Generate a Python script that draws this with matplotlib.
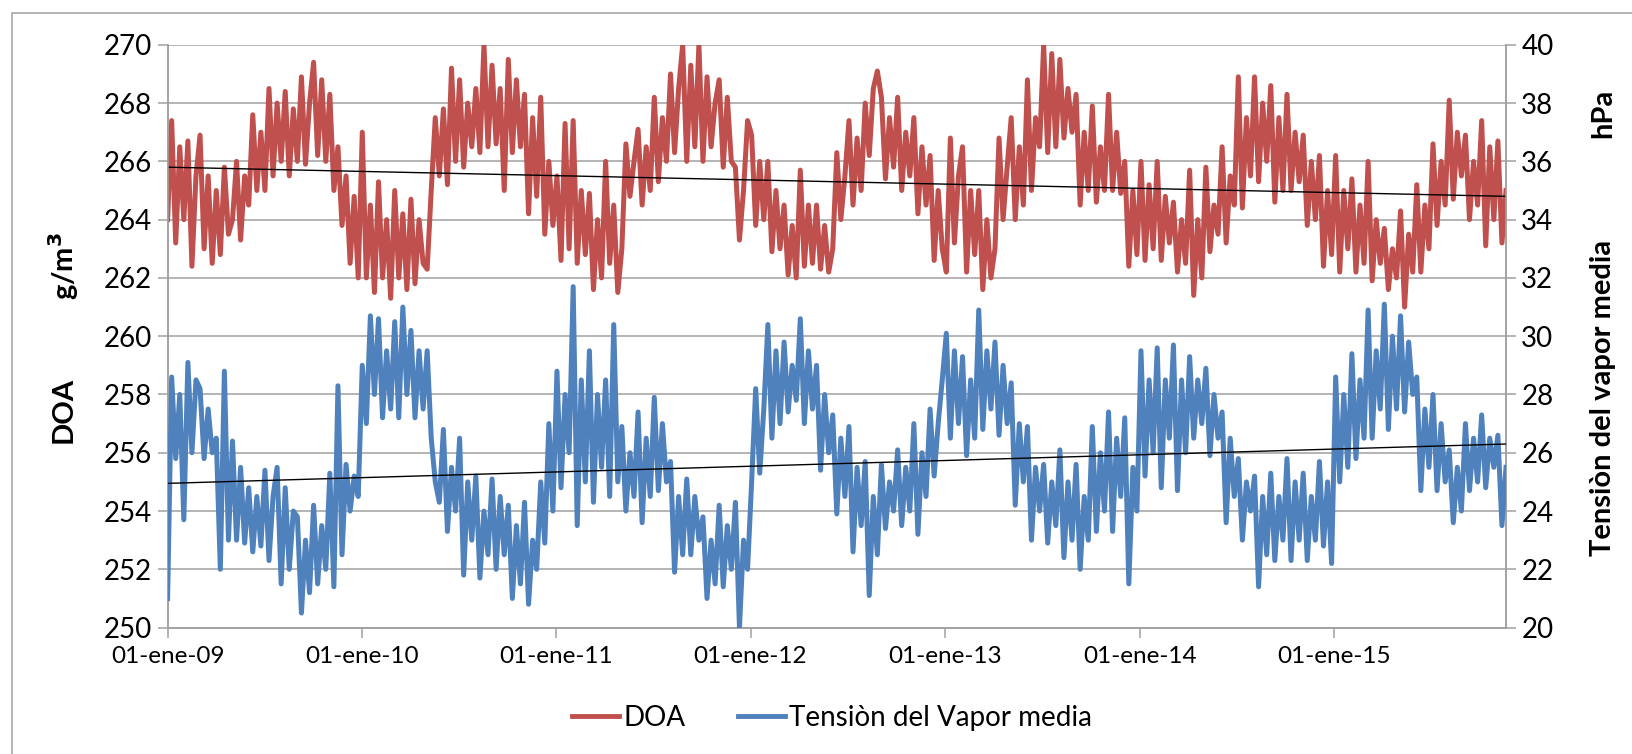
import numpy as np
import matplotlib
matplotlib.use("Agg")
import matplotlib.pyplot as plt
from matplotlib.lines import Line2D
from matplotlib.patches import Rectangle

plt.rcParams['font.family'] = ['Lato', 'DejaVu Sans']

# ---------------- data (~weekly samples) ----------------
start_date = '2009-01-01'
end_date = '2015-11-20'

doa = [
    # 2009
    264.0, 267.4, 263.2, 266.5, 264.0, 266.7, 262.4, 265.5, 266.9, 263.0, 265.5, 262.5,
    265.0, 262.8, 265.8, 263.5, 264.0, 266.0, 263.3, 265.5, 264.5, 267.6, 265.0, 267.0,
    265.0, 268.5, 265.5, 268.0, 266.0, 268.4, 265.5, 267.8, 266.0, 268.9, 265.9, 268.0,
    269.4, 266.2, 268.8, 266.0, 268.3, 265.0, 266.5, 263.8, 265.5, 262.5, 264.8, 262.0,
    # 2010
    267.0, 262.0, 264.5, 261.5, 265.3, 262.0, 264.0, 261.3, 265.0, 262.0, 264.2, 261.6,
    264.7, 261.8, 264.0, 262.5, 262.3, 265.0, 267.5, 265.5, 267.8, 265.2, 269.2, 266.0,
    268.8, 265.8, 268.0, 266.5, 268.5, 266.3, 270.0, 266.5, 269.3, 266.6, 268.5, 265.0,
    269.5, 266.3, 268.8, 266.5, 268.3, 264.2, 267.5, 264.8, 268.2, 263.5, 266.0, 263.8,
    # 2011
    265.5, 262.6, 267.3, 263.0, 267.4, 262.5, 265.0, 262.8, 264.9, 261.6, 264.0, 262.0,
    266.0, 262.5, 264.5, 261.5, 263.0, 266.6, 264.8, 266.0, 267.1, 264.5, 266.5, 265.0,
    268.2, 265.3, 267.5, 266.0, 269.0, 266.3, 268.5, 270.0, 266.0, 269.3, 266.5, 270.0,
    266.0, 268.9, 266.5, 268.0, 268.8, 265.8, 268.2, 266.0, 265.8, 263.3, 265.0, 267.4,
    # 2012
    266.9, 263.8, 266.0, 264.0, 266.0, 262.9, 265.0, 263.0, 264.5, 262.1, 263.8, 262.0,
    265.7, 262.4, 264.5, 262.5, 264.5, 262.3, 263.8, 262.2, 263.0, 266.3, 264.0, 265.5,
    267.4, 264.5, 266.8, 265.0, 268.0, 266.2, 268.5, 269.1, 268.2, 265.4, 267.5, 265.8,
    268.2, 265.0, 267.0, 265.5, 267.5, 264.2, 266.5, 264.5, 266.2, 262.6, 265.0, 263.0,
    # 2013
    262.2, 266.8, 263.2, 265.5, 266.5, 262.2, 265.0, 262.8, 265.0, 261.6, 264.0, 262.0,
    263.0, 266.8, 264.0, 265.8, 267.5, 264.0, 266.5, 264.5, 268.8, 265.0, 267.5, 266.5,
    270.0, 266.3, 269.7, 266.5, 269.5, 266.8, 268.5, 267.0, 268.3, 264.5, 267.0, 265.0,
    267.9, 264.6, 266.5, 265.0, 268.3, 265.0, 267.0, 264.9, 266.0, 262.4, 265.0, 262.8,
    # 2014
    266.0, 262.6, 265.2, 263.0, 266.0, 262.6, 264.8, 263.2, 264.6, 262.2, 264.0, 262.5,
    265.7, 261.4, 264.0, 262.0, 265.8, 262.9, 264.5, 263.5, 266.5, 263.2, 265.5, 264.5,
    268.9, 264.4, 267.5, 265.5, 268.9, 265.3, 268.0, 266.0, 268.6, 264.6, 267.5, 265.0,
    268.3, 265.0, 267.0, 265.3, 266.9, 263.8, 266.0, 264.0, 266.2, 262.4, 265.0, 262.8,
    # 2015
    266.2, 262.2, 265.0, 263.0, 265.4, 262.2, 264.5, 262.5, 266.0, 261.9, 264.0, 262.5,
    263.7, 261.6, 263.0, 262.0, 264.3, 261.0, 263.5, 262.2, 265.2, 262.2, 264.5, 263.0,
    266.6, 263.8, 266.0, 264.5, 268.1, 264.7, 267.0, 265.5, 266.9, 264.0, 266.0, 264.5,
    267.4, 263.1, 266.5, 264.0, 266.7, 263.2, 265.0,
]

vapor = [
    # 2009
    21.0, 28.6, 25.8, 28.0, 23.7, 29.1, 26.0, 28.5, 28.2, 25.8, 27.5, 26.0,
    26.5, 22.0, 28.8, 23.0, 26.4, 23.0, 25.5, 22.9, 24.8, 22.6, 24.5, 22.8,
    25.4, 22.3, 24.5, 25.5, 21.5, 24.8, 22.0, 24.0, 23.8, 20.5, 23.0, 21.2,
    24.2, 21.5, 23.5, 22.0, 25.3, 21.4, 28.3, 22.5, 25.6, 24.0, 25.2, 24.5,
    # 2010
    29.0, 27.0, 30.7, 28.0, 30.6, 27.2, 29.5, 27.5, 30.5, 27.2, 31.0, 28.0,
    30.2, 27.2, 29.5, 27.5, 29.5, 26.5, 25.0, 24.3, 26.8, 23.3, 25.5, 24.0,
    26.5, 21.8, 25.0, 23.0, 25.2, 21.7, 24.0, 22.5, 25.1, 22.0, 24.5, 22.5,
    24.2, 21.0, 23.5, 21.5, 24.3, 20.8, 23.0, 22.0, 25.0, 22.9, 27.0, 24.0,
    # 2011
    28.8, 24.8, 28.0, 26.0, 31.7, 23.5, 28.5, 25.0, 29.5, 24.3, 28.0, 25.5,
    28.5, 24.5, 30.4, 25.0, 26.9, 24.0, 26.0, 24.5, 27.4, 23.6, 26.5, 24.5,
    27.9, 24.7, 27.0, 25.0, 25.7, 21.9, 24.5, 22.5, 25.1, 22.5, 24.5, 23.0,
    23.8, 21.0, 23.0, 21.5, 24.2, 21.4, 23.5, 22.0, 24.3, 20.0, 23.0, 22.0,
    # 2012
    25.0, 28.2, 25.3, 27.5, 30.4, 26.5, 29.5, 27.0, 29.8, 27.4, 29.0, 27.8,
    30.6, 27.0, 29.5, 27.5, 29.0, 25.4, 28.0, 26.0, 27.3, 23.9, 26.5, 24.5,
    26.9, 22.6, 25.5, 23.5, 25.7, 21.1, 24.5, 22.5, 25.6, 23.4, 25.0, 24.0,
    26.1, 23.5, 25.5, 24.0, 27.0, 23.2, 26.0, 24.5, 27.5, 25.2, 27.0, 28.5,
    # 2013
    30.1, 26.5, 29.5, 27.0, 29.3, 25.9, 28.5, 26.5, 30.9, 26.8, 29.5, 27.5,
    29.8, 26.6, 29.0, 27.0, 28.4, 24.2, 27.0, 25.0, 26.9, 23.0, 25.5, 24.0,
    25.6, 22.9, 25.0, 23.5, 26.1, 22.4, 25.0, 23.0, 25.6, 22.0, 24.5, 23.0,
    26.9, 23.3, 26.0, 24.0, 27.4, 23.3, 26.5, 24.5, 27.2, 21.5, 25.5, 24.0,
    # 2014
    29.5, 25.2, 28.5, 26.0, 29.6, 24.8, 28.5, 26.5, 29.7, 24.7, 28.5, 26.0,
    29.3, 26.5, 28.5, 27.0, 28.9, 25.9, 28.0, 26.5, 27.4, 23.6, 26.5, 24.5,
    25.8, 23.0, 25.0, 24.0, 25.2, 21.4, 24.5, 22.5, 25.3, 22.3, 24.5, 23.0,
    25.8, 22.3, 25.0, 23.0, 25.3, 22.3, 24.5, 23.0, 25.7, 22.8, 25.0, 22.2,
    # 2015
    28.6, 25.0, 28.0, 25.5, 29.4, 25.8, 28.5, 26.5, 30.9, 26.5, 29.5, 27.5,
    31.1, 26.8, 30.0, 27.5, 30.7, 27.4, 29.8, 28.0, 28.6, 24.7, 27.5, 25.5,
    28.0, 24.7, 27.0, 25.0, 26.1, 23.6, 25.5, 24.0, 27.0, 24.7, 26.5, 25.0,
    27.3, 24.8, 26.5, 25.5, 26.6, 23.5, 25.5,
]

# linear trend lines (start / end values)
doa_trend = [265.8, 264.8]
vapor_trend = [24.95, 26.3]

xtick_dates = ['2009-01-01', '2010-01-01', '2011-01-01', '2012-01-01',
               '2013-01-01', '2014-01-01', '2015-01-01']
xtick_labels = ['01-ene-09', '01-ene-10', '01-ene-11', '01-ene-12',
                '01-ene-13', '01-ene-14', '01-ene-15']
left_ticks = [250, 252, 254, 256, 258, 260, 262, 264, 266, 268, 270]
right_ticks = [20, 22, 24, 26, 28, 30, 32, 34, 36, 38, 40]

# ---------------- figure ----------------
W, H = 1632, 754
fig = plt.figure(figsize=(W / 100, H / 100), dpi=100)

t0 = np.datetime64(start_date).astype('datetime64[s]').astype(np.int64)
t1 = np.datetime64(end_date).astype('datetime64[s]').astype(np.int64)
dates = np.linspace(t0, t1, len(doa)).astype('datetime64[s]')
dates_v = np.linspace(t0, t1, len(vapor)).astype('datetime64[s]')
trend_dates = np.array([start_date, end_date], dtype='datetime64[s]')

L, R, T, B = 167.6, 1506, 44.8, 627.6
ax = fig.add_axes([L / W, 1 - B / H, (R - L) / W, (B - T) / H])
ax2 = ax.twinx()

red = '#C0504D'
blue = '#4F81BD'
grid_c = '#A0A0A0'

ax.plot(dates, doa, color=red, lw=3.6, solid_joinstyle='round', zorder=3)
ax.plot(trend_dates, doa_trend, color='black', lw=1.0, zorder=4)
ax2.plot(dates_v, vapor, color=blue, lw=3.6, solid_joinstyle='round', zorder=3)
ax2.plot(trend_dates, vapor_trend, color='black', lw=1.0, zorder=4)

ax.set_xlim(trend_dates[0], trend_dates[1])
ax.set_ylim(250, 270)
ax2.set_ylim(20, 40)
ax.set_yticks(left_ticks)
ax2.set_yticks(right_ticks)
ax.set_xticks(np.array(xtick_dates, dtype='datetime64[s]'))
ax.set_xticklabels(xtick_labels)

ax.yaxis.grid(True, color=grid_c, lw=1.1)
ax.set_axisbelow(True)
for a in (ax, ax2):
    a.spines['top'].set_visible(False)
    for s in ('left', 'right', 'bottom'):
        a.spines[s].set_color(grid_c)
        a.spines[s].set_linewidth(1.1)

ax.tick_params(axis='y', labelsize=20, length=7, width=1.1, color=grid_c, pad=4)
ax2.tick_params(axis='y', labelsize=20, length=7, width=1.1, color=grid_c, pad=4)
ax.tick_params(axis='x', labelsize=17.5, length=7, width=1.1, color=grid_c, pad=6)

# axis titles
fig.text(64 / W, 1 - 410 / H, 'DOA', rotation=90, fontsize=21, fontweight='bold',
         ha='center', va='center')
fig.text(64 / W, 1 - 266 / H, 'g/m$^\\mathbf{3}$', rotation=90, fontsize=21,
         fontweight='bold', ha='center', va='center')
fig.text(1603 / W, 1 - 398 / H, 'Tensiòn del vapor media', rotation=90, fontsize=21,
         fontweight='bold', ha='center', va='center')
fig.text(1603 / W, 1 - 113 / H, 'hPa', rotation=90, fontsize=21,
         fontweight='bold', ha='center', va='center')

# legend
handles = [Line2D([], [], color=red, lw=3.5), Line2D([], [], color=blue, lw=3.5)]
fig.legend(handles, ['DOA', 'Tensiòn del Vapor media'], loc='center',
           bbox_to_anchor=(832 / W, 1 - 718 / H), ncol=2, frameon=False,
           fontsize=20, handlelength=1.7, handletextpad=0.15, columnspacing=1.9)

# outer chart border
fig.patches.append(Rectangle((12 / W, -0.05), 1.1, (1 - 13 / H) + 0.05,
                             transform=fig.transFigure, fill=False,
                             edgecolor='#A0A0A0', lw=1.1, zorder=0))

fig.savefig('out.png', dpi=100)
